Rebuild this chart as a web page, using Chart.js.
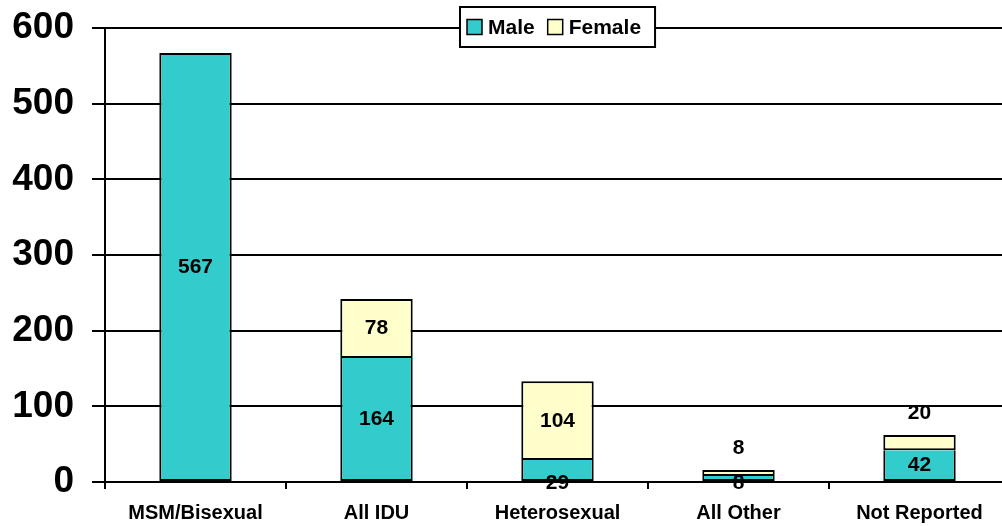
<!DOCTYPE html>
<html>
<head>
<meta charset="utf-8">
<script src="https://cdn.jsdelivr.net/npm/chart.js@4/dist/chart.umd.min.js"></script>
<style>
    html, body { margin: 0; padding: 0; background: #fff; overflow: hidden; }
    #wrap { width: 1002px; height: 526px; overflow: hidden; }
</style>
</head>
<body>
<div id="wrap"><canvas id="riskChart" width="1010" height="526"></canvas></div>
<script>
const categories = ['MSM/Bisexual', 'All IDU', 'Heterosexual', 'All Other', 'Not Reported']
const maleValues = [567, 164, 29, 8, 42]
const femaleValues = [null, 78, 104, 8, 20]
const yTicks = [0, 100, 200, 300, 400, 500, 600]

const FONT = "'Liberation Sans', Arial, sans-serif"

// value labels, placed like the original: inside when there is room
const valueLabels = {
    id: 'valueLabels',
    afterDatasetsDraw(chart) {
        const ctx = chart.ctx
        ctx.save()
        ctx.font = 'bold 21px ' + FONT
        ctx.fillStyle = '#000'
        ctx.textAlign = 'center'
        ctx.textBaseline = 'middle'
        chart.data.datasets.forEach((ds, i) => {
            const meta = chart.getDatasetMeta(i)
            meta.data.forEach((bar, j) => {
                const v = ds.data[j]
                if (v == null) return
                const h = bar.base - bar.y
                let y
                if (h >= 28) y = bar.y + h / 2
                else if (i === 1) y = bar.y - 22
                else y = bar.base + 2
                ctx.fillText(String(v), bar.x, y)
            })
        })
        ctx.restore()
    }
}

// boxed legend sitting on the top gridline
const boxLegend = {
    id: 'boxLegend',
    afterDraw(chart) {
        const ctx = chart.ctx
        const area = chart.chartArea
        ctx.save()
        ctx.font = 'bold 21px ' + FONT
        const sw = 15, gapSw = 6, gapItem = 13, padL = 7, padR = 14
        let widths = chart.data.datasets.map(ds => sw + gapSw + ctx.measureText(ds.label).width)
        let total = padL + padR + widths.reduce((a, b) => a + b, 0) + gapItem * (widths.length - 1)
        const cx = (area.left + area.right) / 2
        const x0 = Math.round(cx - total / 2)
        const y0 = area.top - 21
        const hgt = 40
        ctx.fillStyle = '#fff'
        ctx.fillRect(x0, y0, total, hgt)
        ctx.strokeStyle = '#000'
        ctx.lineWidth = 2
        ctx.strokeRect(x0, y0, total, hgt)
        let x = x0 + padL
        const my = y0 + hgt / 2
        chart.data.datasets.forEach((ds, i) => {
            ctx.fillStyle = ds.backgroundColor
            ctx.fillRect(x, my - sw / 2, sw, sw)
            ctx.lineWidth = 1.5
            ctx.strokeRect(x, my - sw / 2, sw, sw)
            ctx.fillStyle = '#000'
            ctx.textBaseline = 'middle'
            ctx.textAlign = 'left'
            ctx.fillText(ds.label, x + sw + gapSw, my + 1)
            x += widths[i] + gapItem
        })
        ctx.restore()
    }
}

document.addEventListener("DOMContentLoaded", function () {
    const ctx = document.getElementById('riskChart').getContext('2d')

    new Chart(ctx, {
        type: 'bar',
        data: {
            labels: categories,
            datasets: [{
                label: 'Male',
                data: maleValues,
                backgroundColor: '#33CCCC',
                borderColor: '#000',
                borderWidth: 2,
                // female segment on top already draws the dividing line
                borderSkipped: (c) => femaleValues[c.dataIndex] != null ? 'top' : false,
                categoryPercentage: 1,
                barPercentage: 0.4
            }, {
                label: 'Female',
                data: femaleValues,
                backgroundColor: '#FFFFCC',
                borderColor: '#000',
                borderWidth: 2,
                borderSkipped: false,
                categoryPercentage: 1,
                barPercentage: 0.4
            }]
        },
        options: {
            responsive: false,
            animation: false,
            layout: {
                padding: { top: 28, right: 0, bottom: 0, left: 0 }
            },
            plugins: {
                legend: { display: false },
                tooltip: { enabled: false }
            },
            scales: {
                x: {
                    stacked: true,
                    grid: {
                        display: true,
                        drawOnChartArea: false,
                        color: '#000',
                        lineWidth: 2,
                        tickLength: 7,
                        offset: true
                    },
                    border: { color: '#000', width: 2 },
                    ticks: {
                        color: '#000',
                        padding: 12,
                        maxRotation: 0,
                        font: { family: FONT, size: 20, weight: 'bold' }
                    },
                    afterFit(scale) {
                        scale.height = 44
                        scale.paddingLeft = 0
                        scale.paddingRight = 0
                    }
                },
                y: {
                    stacked: true,
                    min: 0,
                    max: 600,
                    afterBuildTicks(scale) {
                        scale.ticks = yTicks.map(v => ({ value: v }))
                    },
                    grid: {
                        color: '#000',
                        lineWidth: 2,
                        tickLength: 13
                    },
                    border: { color: '#000', width: 2 },
                    ticks: {
                        color: '#000',
                        padding: 18,
                        font: { family: FONT, size: 37, weight: 'bold' }
                    },
                    afterFit(scale) {
                        scale.width = 105
                        scale.paddingTop = 0
                        scale.paddingBottom = 0
                    }
                }
            }
        },
        plugins: [valueLabels, boxLegend]
    });
});
</script>
</body>
</html>
